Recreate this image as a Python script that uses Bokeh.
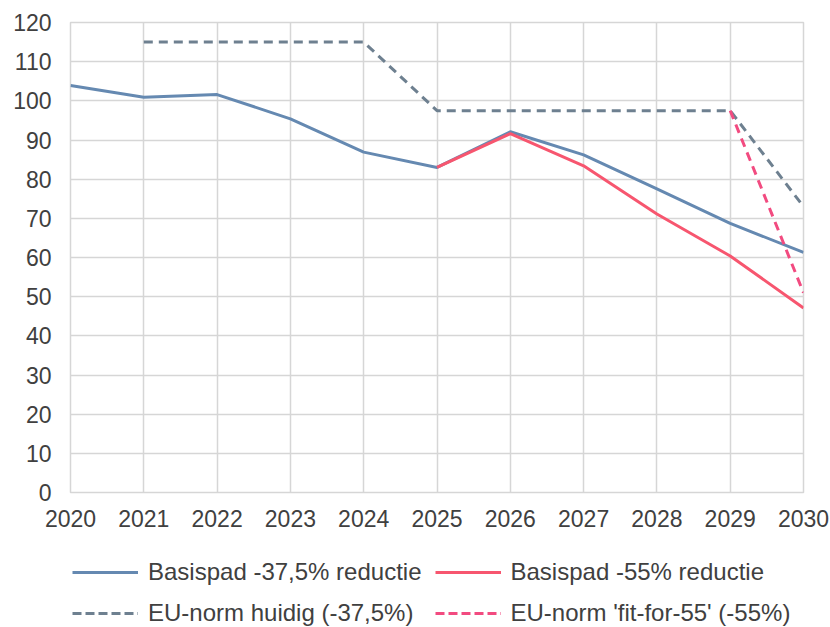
from bokeh.plotting import figure
from bokeh.models import Legend, LegendItem, FixedTicker, Range1d
from bokeh.layouts import column
from bokeh.embed import file_html
from bokeh.resources import INLINE

years = [2020, 2021, 2022, 2023, 2024, 2025, 2026, 2027, 2028, 2029, 2030]
basispad_375 = [103.9, 100.9, 101.6, 95.4, 86.9, 83.0, 92.1, 86.2, 77.5, 68.7, 61.3]
years_55 = [2025, 2026, 2027, 2028, 2029, 2030]
basispad_55 = [83.0, 91.6, 83.4, 71.1, 60.4, 47.1]
years_eu = [2021, 2022, 2023, 2024, 2025, 2026, 2027, 2028, 2029, 2030]
eu_huidig = [115, 115, 115, 115, 97.5, 97.5, 97.5, 97.5, 97.5, 73.0]
years_f55 = [2029, 2030]
eu_fit55 = [97.5, 51.0]
y_ticks = [0, 10, 20, 30, 40, 50, 60, 70, 80, 90, 100, 110, 120]
labels = ["Basispad -37,5% reductie", "Basispad -55% reductie",
          "EU-norm huidig (-37,5%)", "EU-norm 'fit-for-55' (-55%)"]

FONT = "Liberation Sans"
TXT = "#404040"
GRID = "#d6d6d6"
C_BLUE, C_RED, C_GREY, C_PINK = "#6589b1", "#f7566f", "#6e8090", "#f24b80"

p = figure(width=830, height=540, output_backend="svg", toolbar_location=None,
           x_range=Range1d(2020, 2030), y_range=Range1d(0, 120),
           min_border_left=70, min_border_right=27, min_border_top=22,
           min_border_bottom=48)

p.outline_line_color = GRID
p.outline_line_width = 1.5
p.background_fill_color = "white"
p.border_fill_color = "white"

for ax in (p.xaxis[0], p.yaxis[0]):
    ax.axis_line_color = None
    ax.major_tick_line_color = None
    ax.minor_tick_line_color = None
    ax.major_tick_out = 0
    ax.major_tick_in = 0
    ax.major_label_text_font = FONT
    ax.major_label_text_font_size = "23px"
    ax.major_label_text_color = TXT

p.xaxis.ticker = FixedTicker(ticks=years)
p.yaxis.ticker = FixedTicker(ticks=y_ticks)
p.xaxis.major_label_standoff = 17
p.yaxis.major_label_standoff = 19

p.xgrid.ticker = FixedTicker(ticks=years)
p.ygrid.ticker = FixedTicker(ticks=y_ticks)
p.grid.grid_line_color = GRID
p.grid.grid_line_width = 1.5

p.line(years, basispad_375, line_color=C_BLUE, line_width=3)
p.line(years_55, basispad_55, line_color=C_RED, line_width=3)
p.line(years_eu, eu_huidig, line_color=C_GREY, line_width=3, line_dash="9 6")
p.line(years_f55, eu_fit55, line_color=C_PINK, line_width=3, line_dash="9 6")

# legend figure below the chart (its frame is aligned with the chart's frame)
q = figure(width=830, height=87, output_backend="svg", toolbar_location=None,
           x_range=Range1d(0, 1), y_range=Range1d(0, 1),
           x_axis_type=None, y_axis_type=None,
           min_border_left=0, min_border_right=0, min_border_top=0,
           min_border_bottom=0)
q.outline_line_color = None
q.grid.visible = False
q.background_fill_color = "white"
q.border_fill_color = "white"

off = [-5, -4]  # outside the visible range: only the legend glyphs show
l1 = q.line(off, off, line_color=C_BLUE, line_width=3)
l2 = q.line(off, off, line_color=C_RED, line_width=3)
l3 = q.line(off, off, line_color=C_GREY, line_width=3, line_dash="9 4")
l4 = q.line(off, off, line_color=C_PINK, line_width=3, line_dash="9 4")

legend = Legend(items=[LegendItem(label=t, renderers=[r])
                       for t, r in zip(labels, [l1, l2, l3, l4])],
                orientation="horizontal", ncols=2, location=(2, 0),
                label_text_font=FONT, label_text_font_size="24px",
                label_text_color=TXT, glyph_width=66, glyph_height=20,
                label_standoff=10, label_width=271, spacing=13, padding=0,
                margin=0, border_line_color=None, background_fill_alpha=0)
q.add_layout(legend, "center")

open("out.html", "w").write(file_html(column(p, q), INLINE))
